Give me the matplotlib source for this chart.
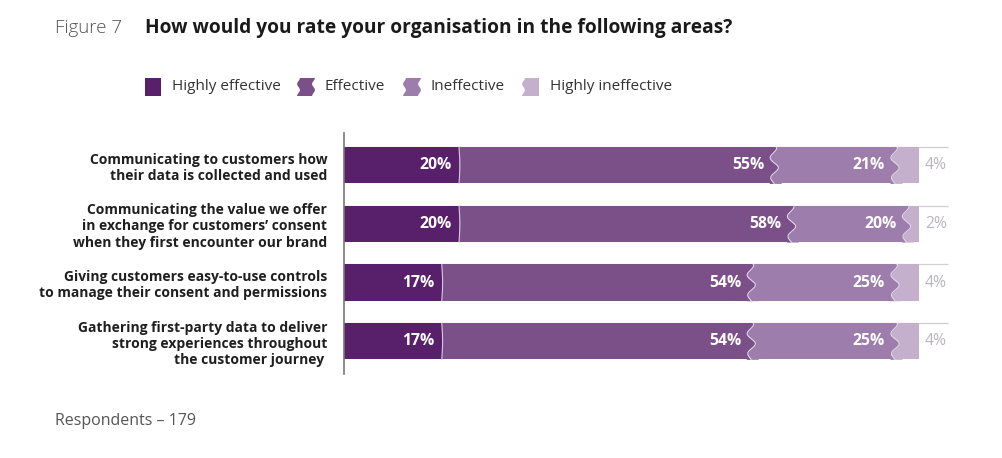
import numpy as np
import matplotlib
matplotlib.use("Agg")
import matplotlib.pyplot as plt
from matplotlib.patches import Polygon

plt.rcParams['font.family'] = ['Open Sans', 'DejaVu Sans']

categories = [
    "Communicating to customers how\ntheir data is collected and used",
    "Communicating the value we offer\nin exchange for customers\u2019 consent\nwhen they first encounter our brand",
    "Giving customers easy-to-use controls\nto manage their consent and permissions",
    "Gathering first-party data to deliver\nstrong experiences throughout\nthe customer journey ",
]
highly_effective = [20, 20, 17, 17]
effective = [55, 58, 54, 54]
ineffective = [21, 20, 25, 25]
highly_ineffective = [4, 2, 4, 4]
series_names = ["Highly effective", "Effective", "Ineffective", "Highly ineffective"]
series = [highly_effective, effective, ineffective, highly_ineffective]
colors = ["#58206a", "#7b5089", "#9d7dab", "#c4b0cc"]

W, H = 1002, 458
fig = plt.figure(figsize=(W / 100, H / 100), dpi=100)
fig.patch.set_facecolor("white")

PX = 5.75  # pixels per percent
ax = fig.add_axes([344 / W, 1 - 374 / H, (960 - 344) / W, (374 - 133) / H])
ax.set_xlim(0, 616 / PX)
ax.set_ylim(3.56, -0.55)

bar_h = 0.62
ypos = np.arange(len(categories))

# thin guide line along top of each bar
for y in ypos:
    ax.hlines(y - bar_h / 2, 0, 105.0, color="#cfcfd4", lw=0.9, zorder=0)

A = 0.75  # wave amplitude (data units)
for i, y in enumerate(ypos):
    left = 0
    bounds = []
    for s, vals in enumerate(series):
        v = vals[i]
        ax.barh(y, v, left=left, height=bar_h, color=colors[s], edgecolor="none", zorder=2)
        left += v
        bounds.append(left)
    yy = np.linspace(y - bar_h / 2, y + bar_h / 2, 300)
    t = (yy - (y - bar_h / 2)) / bar_h
    b0 = bounds[0]
    ax.plot(b0 + 0.15 * np.sin(np.pi * t), yy, color="#d9c8e0", lw=0.8, zorder=4)
    for s in (1, 2):
        b = bounds[s]
        w = A * np.cos(2 * np.pi * 1.75 * t) * (0.6 + 0.4 * np.sin(np.pi * t)) - 0.2
        ax.fill_betweenx(yy, b - A - 0.3, b + w, color=colors[s], lw=0, zorder=3)
        ax.fill_betweenx(yy, b + w, b + A + 0.3, color=colors[s + 1], lw=0, zorder=3)
        ax.plot(b + w, yy, color="#e2d6e7", lw=0.8, zorder=4)
    for s in range(3):
        pad = 1.2 if s == 0 else 1.9
        ax.text(bounds[s] - pad, y, f"{series[s][i]}%", ha="right", va="center",
                color="white", fontsize=11.3, fontweight="bold", zorder=5)
    ax.text(bounds[3] + 1.0, y, f"{series[3][i]}%", ha="left", va="center",
            color="#b9b6bf", fontsize=11.3, zorder=5)

ax.set_yticks(ypos)
ax.set_yticklabels(categories, fontsize=10, fontweight="bold", color="#1f1f1f",
                   multialignment="right", linespacing=1.2)
ax.tick_params(axis="y", length=0, pad=12)
ax.set_xticks([])
for sp in ("top", "right", "bottom"):
    ax.spines[sp].set_visible(False)
ax.spines["left"].set_color("#777777")
ax.spines["left"].set_linewidth(1.2)

# title
fig.text(55 / W, 1 - 28 / H, "Figure 7", fontsize=13.5, color="#555555",
         fontweight="light", va="center", ha="left")
fig.text(145 / W, 1 - 28 / H, "How would you rate your organisation in the following areas?",
         fontsize=13.8, color="#1a1a1a", fontweight="bold", va="center", ha="left")

# legend with wavy-edged swatches
leg_x = [145, 298, 404, 523]
wavy_left = [False, True, True, True]
wavy_right = [False, True, True, False]
tt = np.linspace(0, 1, 60)
for s, name in enumerate(series_names):
    x0, x1 = leg_x[s], leg_x[s] + 16
    ytop, ybot = 78, 96
    wv = 1.4 * np.cos(2 * np.pi * 1.5 * tt)
    lx = x0 + (wv + 0.5 if wavy_left[s] else 0 * tt)
    rx = x1 + (wv - 0.5 if wavy_right[s] else 0 * tt)
    ys = ytop + (ybot - ytop) * tt
    pts = np.concatenate([np.column_stack([rx, ys]), np.column_stack([lx[::-1], ys[::-1]])])
    pts_fig = np.column_stack([pts[:, 0] / W, 1 - pts[:, 1] / H])
    fig.patches.append(Polygon(pts_fig, closed=True, transform=fig.transFigure,
                               facecolor=colors[s], edgecolor="none"))
    fig.text((leg_x[s] + 27) / W, 1 - 87 / H, name, fontsize=11, color="#333333",
             va="center", ha="left")

fig.text(55 / W, 1 - 421 / H, "Respondents \u2013 179", fontsize=11.5, color="#555555",
         va="center", ha="left")

fig.savefig("out.png", dpi=100)
